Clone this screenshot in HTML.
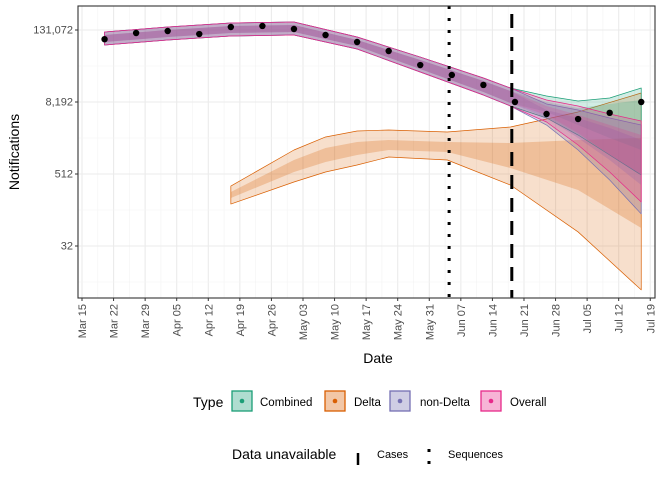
<!DOCTYPE html>
<html><head><meta charset="utf-8"><style>
body{margin:0;background:#fff;}
svg{display:block;font-family:"Liberation Sans",sans-serif;}
</style></head><body>
<svg id="chart" width="672" height="480"></svg>
<script>
const yTicks=[32,512,8192,131072];
const yTickLabels=["32","512","8,192","131,072"];
const xTickLabels=["Mar 15","Mar 22","Mar 29","Apr 05","Apr 12","Apr 19","Apr 26","May 03","May 10","May 17","May 24","May 31","Jun 07","Jun 14","Jun 21","Jun 28","Jul 05","Jul 12","Jul 19"];
const pointDays=[5,12,19,26,33,40,47,54,61,68,75,82,89,96,103,110,117,124];
const pointValues=[92000,116800,126100,112300,147100,153000,136200,108100,82600,58400,34000,23200,15800,8192,5160,4250,5400,8192];
const mainDays=[5,19,33,47,61,75,89,95,103,110,117,124];
const combinedOuterHi=[121400,147100,171600,178400,100100,46300,20640,14040,10320,8510,9550,14040];
const combinedOuterLo=[73500,89200,104000,108100,63080,26000,10720,7020,4424,2298,1064,493];
const combinedInnerHi=[108100,131072,152800,158900,89200,41290,18380,12510,8192,6500,7590,8850];
const combinedInnerLo=[82580,100100,116800,121400,70780,29200,12040,7885,5574,3377,2048,1290];
const nonDeltaOuterHi=[121400,147100,171600,178400,100100,46300,20640,14040,7590,6020,4424,3377];
const nonDeltaOuterLo=[73500,89200,104000,108100,63080,26000,10720,7020,3377,1290,406,110];
const nonDeltaInnerHi=[108100,131072,152800,158900,89200,41290,18380,12510,6020,4424,3010,1896];
const nonDeltaInnerLo=[82580,100100,116800,121400,70780,29200,12040,7885,4424,2048,878,335];
const overallOuterHi=[121400,147100,171600,178400,100100,46300,20640,14040,8850,7020,5160,3943];
const overallOuterLo=[73500,89200,104000,108100,63080,26000,10720,7020,3793,1564,553,174];
const overallInnerHi=[108100,131072,152800,158900,89200,41290,18380,12510,7020,4970,3377,2298];
const overallInnerLo=[82580,100100,116800,121400,70780,29200,12040,7885,4970,2485,1064,493];
const deltaDays=[33,47,54,61,68,81,95,110,124];
const deltaOuterHi=[322,1290,2130,2680,2790,2580,3130,5580,11585];
const deltaOuterLo=[161,376,553,724,985,878,335,55,5.9];
const deltaInnerHi=[256,878,1393,1756,1896,1756,1690,1896,2048];
const deltaInnerLo=[203,553,813,1065,1290,1194,645,276,64];
const sequencesDay=81.4, casesDay=95.3;

const NS="http://www.w3.org/2000/svg";
const svg=document.getElementById('chart');
const L=78,R=655,T=6,B=298;
const xS=d=>82+4.51*d;
const yS=v=>30+(17-Math.log2(v))*18;
function mk(tag,at,parent){const e=document.createElementNS(NS,tag);for(const k in at)e.setAttribute(k,at[k]);(parent||svg).appendChild(e);return e;}
const grid=mk('g',{});


for(let i=0;i<=18;i++){const x=xS(i*7);mk('line',{x1:x,x2:x,y1:T,y2:B,stroke:'#ebebeb','stroke-width':1.1},grid);
 if(i<18){const xm=xS(i*7+3.5);mk('line',{x1:xm,x2:xm,y1:T,y2:B,stroke:'#f3f3f3','stroke-width':0.6},grid);}}
[2**3,2**7,2**11,2**15].forEach(v=>{const y=yS(v);mk('line',{x1:L,x2:R,y1:y,y2:y,stroke:'#f3f3f3','stroke-width':0.6},grid);});
yTicks.forEach(v=>{const y=yS(v);mk('line',{x1:L,x2:R,y1:y,y2:y,stroke:'#ebebeb','stroke-width':1.1},grid);});
function band(days,hi,lo,fill,op,stroke,name){
 let d='M'+days.map((t,i)=>xS(t)+','+yS(hi[i])).join('L');
 d+='L'+days.map((t,i)=>[xS(t),yS(lo[i])]).reverse().map(p=>p.join(',')).join('L')+'Z';
 const p=mk('path',{d:d,fill:fill,'fill-opacity':op,stroke:stroke||'none','stroke-width':0.7,'stroke-linejoin':'round'});
 
 
}
band(deltaDays,deltaOuterHi,deltaOuterLo,'#d95f02',0.2,'#d95f02','delta-outer-band');
band(deltaDays,deltaInnerHi,deltaInnerLo,'#d95f02',0.25,null,'delta-inner-band');
band(mainDays,combinedOuterHi,combinedOuterLo,'#1b9e77',0.2,'#1b9e77','combined-outer-band');
band(mainDays,combinedInnerHi,combinedInnerLo,'#1b9e77',0.2,null,'combined-inner-band');
band(mainDays,nonDeltaOuterHi,nonDeltaOuterLo,'#7570b3',0.25,'#7570b3','non-delta-outer-band');
band(mainDays,nonDeltaInnerHi,nonDeltaInnerLo,'#7570b3',0.25,null,'non-delta-inner-band');
band(mainDays,overallOuterHi,overallOuterLo,'#e7298a',0.2,'#e7298a','overall-outer-band');
band(mainDays,overallInnerHi,overallInnerLo,'#e7298a',0.2,null,'overall-inner-band');
pointDays.forEach((d,i)=>{const c=mk('circle',{cx:xS(d),cy:yS(pointValues[i]),r:3.2,fill:'#000'});
 
 });
const sl=mk('line',{x1:xS(sequencesDay),x2:xS(sequencesDay),y1:T,y2:B,stroke:'#000','stroke-width':3,'stroke-dasharray':'3 9'});


const cl=mk('line',{x1:xS(casesDay),x2:xS(casesDay),y1:T+8,y2:B,stroke:'#000','stroke-width':3,'stroke-dasharray':'14 9'});


const fr=mk('rect',{x:L,y:T,width:R-L,height:B-T,fill:'none',stroke:'#333','stroke-width':1.1});


yTicks.forEach((v,i)=>{const y=yS(v);mk('line',{x1:L-3,x2:L,y1:y,y2:y,stroke:'#333'});
 const t=mk('text',{x:L-5,y:y+3.5,'text-anchor':'end','font-size':11,fill:'#4d4d4d'});t.textContent=yTickLabels[i];
 
 });
xTickLabels.forEach((lab,i)=>{const x=xS(i*7);mk('line',{x1:x,x2:x,y1:B,y2:B+3,stroke:'#333'});
 const t=mk('text',{transform:`translate(${x+4},${B+6}) rotate(-90)`,'text-anchor':'end','font-size':11,fill:'#4d4d4d'});t.textContent=lab;
 
 });
</script>
<div style="position:absolute;left:0;top:0;width:672px;height:480px;pointer-events:none">
<svg width="672" height="480" style="font-family:'Liberation Sans',sans-serif">
<text x="378" y="363" text-anchor="middle" font-size="14">Date</text>
<text transform="translate(19,152) rotate(-90)" text-anchor="middle" font-size="14">Notifications</text>
<g>
<text x="193" y="407" font-size="14">Type</text>
<g><rect x="232" y="391" width="20" height="20" fill="#1b9e77" fill-opacity="0.35" stroke="#1b9e77" stroke-width="1.3"/><circle cx="242" cy="401" r="2.3" fill="#1b9e77"/><text x="260" y="406" font-size="11.5">Combined</text></g>
<g><rect x="325" y="391" width="20" height="20" fill="#d95f02" fill-opacity="0.35" stroke="#d95f02" stroke-width="1.3"/><circle cx="335" cy="401" r="2.3" fill="#d95f02"/><text x="354" y="406" font-size="11.5">Delta</text></g>
<g><rect x="390" y="391" width="20" height="20" fill="#7570b3" fill-opacity="0.35" stroke="#7570b3" stroke-width="1.3"/><circle cx="400" cy="401" r="2.3" fill="#7570b3"/><text x="420" y="406" font-size="11.5">non-Delta</text></g>
<g><rect x="481" y="391" width="20" height="20" fill="#e7298a" fill-opacity="0.35" stroke="#e7298a" stroke-width="1.3"/><circle cx="491" cy="401" r="2.3" fill="#e7298a"/><text x="510" y="406" font-size="11.5">Overall</text></g>
</g>
<g>
<text x="232" y="459" font-size="14">Data unavailable</text>
<g><line x1="358" x2="358" y1="453" y2="465" stroke="#000" stroke-width="2.5"/><text x="377" y="458" font-size="11">Cases</text></g>
<g><line x1="429" x2="429" y1="449" y2="466" stroke="#000" stroke-width="3" stroke-dasharray="3 9"/><text x="448" y="458" font-size="11">Sequences</text></g>
</g>
</svg></div>
</body></html>
